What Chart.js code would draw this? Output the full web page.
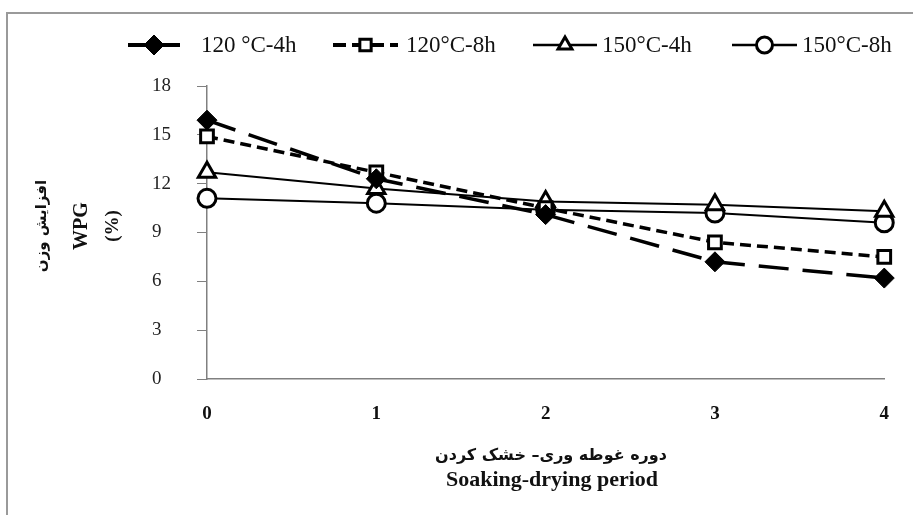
<!DOCTYPE html>
<html>
<head>
<meta charset="utf-8">
<script src="https://cdn.jsdelivr.net/npm/chart.js@4"></script>
<style>
  body { margin: 0; background: #fff; }
  #wrap { position: relative; width: 913px; height: 515px; }
</style>
</head>
<body>
<div id="wrap"><canvas id="wpgChart"></canvas></div>
<script>
// === DATA ===
const periods = [0, 1, 2, 3, 4];
const yTicks = [0, 3, 6, 9, 12, 15, 18];
const seriesNames = ["120 °C-4h", "120°C-8h", "150°C-4h", "150°C-8h"];
const wpg120_4h = [15.9, 12.3, 10.1, 7.2, 6.2];
const wpg120_8h = [14.9, 12.7, 10.5, 8.4, 7.5];
const wpg150_4h = [12.7, 11.7, 10.9, 10.7, 10.3];
const wpg150_8h = [11.1, 10.8, 10.4, 10.2, 9.6];

const serif = "'Liberation Serif', 'Times New Roman', serif";
const arabic = "'DejaVu Sans', sans-serif";

// legend layout: line start, line end, text x, line dash, line width
const legendPos = [
  [128, 180, 201, [], 4],
  [333, 398, 406, [13, 6], 4],
  [533, 597, 602, [], 2.5],
  [732, 797, 802, [], 2.5]
];

function toXY(values) {
  return values.map((v, i) => ({ x: periods[i], y: v }));
}

// marker drawing for the custom legend (same shapes as chart.js)
function drawMarker(ctx, style, x, y, r, fill) {
  ctx.beginPath();
  if (style === "rectRot") {
    ctx.moveTo(x - r, y); ctx.lineTo(x, y - r); ctx.lineTo(x + r, y); ctx.lineTo(x, y + r);
    ctx.closePath();
  } else if (style === "rect") {
    const s = r * Math.SQRT1_2;
    ctx.rect(x - s, y - s, 2 * s, 2 * s);
  } else if (style === "triangle") {
    ctx.moveTo(x, y - r);
    ctx.lineTo(x + r * 0.866, y + r * 0.5);
    ctx.lineTo(x - r * 0.866, y + r * 0.5);
    ctx.closePath();
  } else {
    ctx.arc(x, y, r, 0, Math.PI * 2);
  }
  ctx.fillStyle = fill;
  ctx.fill();
  ctx.stroke();
}

const decorPlugin = {
  id: "decor",
  beforeDraw(chart) {
    const ctx = chart.ctx;
    ctx.save();
    // frame (top + left edges visible)
    ctx.strokeStyle = "#9a9a9a";
    ctx.lineWidth = 2;
    ctx.beginPath();
    ctx.moveTo(7, 515); ctx.lineTo(7, 13); ctx.lineTo(913, 13);
    ctx.stroke();
    ctx.restore();
  },
  afterDraw(chart) {
    const ctx = chart.ctx;
    ctx.save();

    // legend
    chart.data.datasets.forEach((ds, i) => {
      const [x0, x1, tx, dash, lw] = legendPos[i];
      const y = 45;
      ctx.strokeStyle = "#000";
      ctx.lineWidth = lw;
      ctx.setLineDash(dash);
      ctx.beginPath();
      ctx.moveTo(x0, y); ctx.lineTo(x1, y);
      ctx.stroke();
      ctx.setLineDash([]);
      ctx.lineWidth = ds.pointBorderWidth;
      drawMarker(ctx, ds.pointStyle, (x0 + x1) / 2, y, ds.pointStyle === "rectRot" ? 10 : 8, ds.pointBackgroundColor);
      ctx.fillStyle = "#111";
      ctx.font = "23px " + serif;
      ctx.textAlign = "left";
      ctx.textBaseline = "middle";
      ctx.fillText(ds.label, tx, y + 1);
    });

    // y axis title (rotated)
    const yc = 226;
    ctx.fillStyle = "#111";
    ctx.textAlign = "center";
    ctx.textBaseline = "middle";
    [
      ["افزایش وزن", 42, "bold 15px " + arabic, "rtl"],
      ["WPG", 82, "bold 20px " + serif, "ltr"],
      ["(%)", 113, "bold 19px " + serif, "ltr"]
    ].forEach(([t, x, f, dir]) => {
      ctx.save();
      ctx.translate(x, yc);
      ctx.rotate(-Math.PI / 2);
      ctx.font = f;
      ctx.direction = dir;
      ctx.fillText(t, 0, 0);
      ctx.restore();
    });

    // x axis title
    ctx.font = "bold 16px " + arabic;
    ctx.direction = "rtl";
    ctx.fillText("دوره غوطه وری– خشک کردن", 551, 456);
    ctx.direction = "ltr";
    ctx.font = "bold 22px " + serif;
    ctx.fillText("Soaking-drying period", 552, 480);

    ctx.restore();
  }
};

new Chart(document.getElementById("wpgChart"), {
  type: "line",
  data: {
    datasets: [
      {
        label: seriesNames[0],
        data: toXY(wpg120_4h),
        borderColor: "#000",
        borderWidth: 3.5,
        borderDash: [30, 14],
        pointStyle: "rectRot",
        pointRadius: 10,
        pointBackgroundColor: "#000",
        pointBorderColor: "#000",
        pointBorderWidth: 1
      },
      {
        label: seriesNames[1],
        data: toXY(wpg120_8h),
        borderColor: "#000",
        borderWidth: 3.5,
        borderDash: [11, 6],
        pointStyle: "rect",
        pointRadius: 9,
        pointBackgroundColor: "#fff",
        pointBorderColor: "#000",
        pointBorderWidth: 3
      },
      {
        label: seriesNames[2],
        data: toXY(wpg150_4h),
        borderColor: "#000",
        borderWidth: 2,
        borderDash: [],
        pointStyle: "triangle",
        pointRadius: 10,
        pointBackgroundColor: "#fff",
        pointBorderColor: "#000",
        pointBorderWidth: 3
      },
      {
        label: seriesNames[3],
        data: toXY(wpg150_8h),
        borderColor: "#000",
        borderWidth: 2,
        borderDash: [],
        pointStyle: "circle",
        pointRadius: 9,
        pointBackgroundColor: "#fff",
        pointBorderColor: "#000",
        pointBorderWidth: 3
      }
    ]
  },
  options: {
    responsive: true,
    maintainAspectRatio: false,
    animation: false,
    clip: false,
    layout: { padding: { left: 152, right: 22, top: 86, bottom: 0 } },
    plugins: {
      legend: { display: false },
      tooltip: { enabled: false }
    },
    scales: {
      x: {
        type: "linear",
        min: 0,
        max: 4,
        afterFit: s => { s.height = 136; },
        afterBuildTicks: s => { s.ticks = periods.map(v => ({ value: v })); },
        grid: { display: false, drawTicks: false },
        border: { display: true, color: "#808080", width: 1.5 },
        ticks: {
          padding: 24,
          color: "#111",
          font: { family: serif, size: 19, weight: "bold" },
          callback: v => String(v)
        }
      },
      y: {
        min: 0,
        max: 18,
        afterFit: s => { s.width = 55; },
        afterBuildTicks: s => { s.ticks = yTicks.map(v => ({ value: v })); },
        grid: { drawOnChartArea: false, drawTicks: true, tickLength: 10, color: "#808080" },
        border: { display: true, color: "#808080", width: 1.5 },
        ticks: {
          crossAlign: "far",
          color: "#222",
          font: { family: serif, size: 19 }
        }
      }
    }
  },
  plugins: [decorPlugin]
});
</script>
</body>
</html>
